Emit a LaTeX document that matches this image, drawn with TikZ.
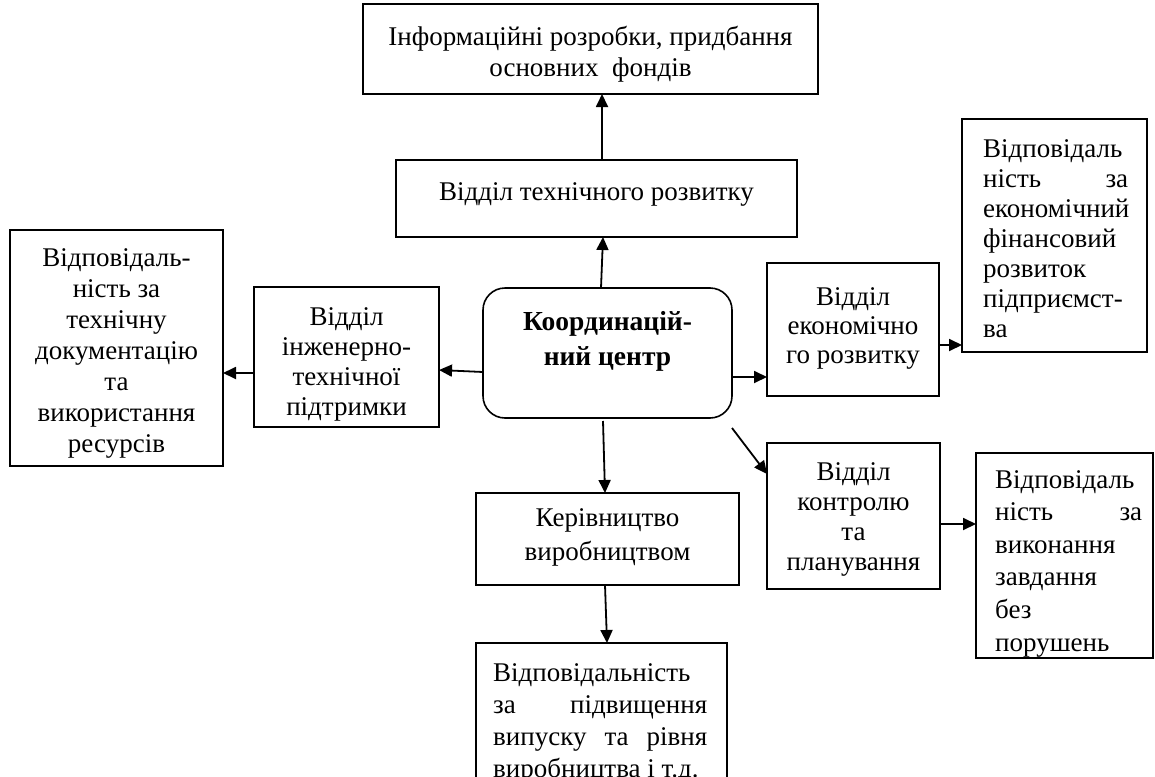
\documentclass[tikz,border=0pt]{standalone}
\usepackage{fontspec}
\setmainfont{Liberation Serif}
\usetikzlibrary{arrows.meta}
\newcommand{\fsz}[1]{\fontsize{27}{#1}\selectfont}
\begin{document}
\begin{tikzpicture}[x=1pt,y=-1pt,
  box/.style={draw, line width=1.6pt, inner sep=0pt, outer sep=0pt},
  arr/.style={line width=1.8pt, -{Triangle[length=13pt,width=12pt]}},
  txt/.style={inner sep=0pt, align=center, font=\fsz{31}}]
\useasboundingbox (0,0) rectangle (1155,776);
\clip (0,0) rectangle (1155,776);
% boxes
\node[box,minimum width=455pt,minimum height=90pt] (top) at (590.5,49) {};
\node[box,minimum width=401pt,minimum height=77pt] (tech) at (596.5,198.5) {};
\node[box,minimum width=213pt,minimum height=236pt] (left) at (116.5,348) {};
\node[box,minimum width=185pt,minimum height=140pt] (eng) at (346.5,357) {};
\node[box,rounded corners=22pt,minimum width=249pt,minimum height=130pt] (ctr) at (607.5,353) {};
\node[box,minimum width=172pt,minimum height=133pt] (econ) at (853,329.5) {};
\node[box,minimum width=185pt,minimum height=233pt] (rt) at (1054.5,235.5) {};
\node[box,minimum width=173pt,minimum height=146pt] (ctrl) at (853.5,516) {};
\node[box,minimum width=177pt,minimum height=205pt] (rb) at (1064.5,555.5) {};
\node[box,minimum width=263pt,minimum height=92pt] (ker) at (607.5,539) {};
\node[box,minimum width=251pt,minimum height=157pt] (bot) at (601.5,721.5) {};
% texts
\node[txt] (ttop) at (590.5,54.5) {Інформаційні розробки, придбання\\основних\ \ фондів};
\node[txt] (ttech) at (596.5,194) {Відділ технічного розвитку};
\node[txt] (tleft) at (116.5,353.5) {Відповідаль-\\ність за\\технічну\\документацію\\та\\використання\\ресурсів};
\node[txt,font=\fsz{30}] (teng) at (346.5,364) {Відділ\\інженерно-\\технічної\\підтримки};
\node[txt,font=\bfseries\fontsize{27.5}{35}\selectfont] (tctr) at (607.5,341.5) {Координацій-\\ний центр};
\node[txt,font=\fsz{29}] (tecon) at (853,328.5) {Відділ\\економічно\\го розвитку};
\node[txt,font=\fsz{30},align=left,anchor=west] (trt) at (983,239) {Відповідаль\\\hbox to 145pt{ність\hfill за}\\економічний\\фінансовий\\розвиток\\підприємст-\\ва};
\node[txt,font=\fsz{30}] (tctrl) at (853.5,519.5) {Відділ\\контролю\\та\\планування};
\node[txt,font=\fsz{34}] (tker) at (607.5,537) {Керівництво\\виробництвом};
\node[txt,font=\fsz{32.6},align=left,anchor=west] (trb) at (995,563.5) {Відповідаль\\\hbox to 147pt{ність\hfill за}\\виконання\\завдання\\без\\порушень};
\node[txt,font=\fsz{32},align=left,anchor=west] (tbot) at (493,723) {Відповідальність\\\hbox to 214pt{за\hfill підвищення}\\\hbox to 214pt{випуску\hfill та\hfill рівня}\\виробництва і т.д.};
% connectors
\draw[arr] ([xshift=5.5pt]tech.north) -- ([xshift=5.5pt]tech.north |- top.south);
\draw[arr] ([xshift=-6.5pt]ctr.north) -- ([xshift=6.5pt]tech.south);
\draw[arr] ([yshift=-19pt]ctr.west) -- ([yshift=-13pt]eng.east);
\coordinate (e1) at ([yshift=-16pt]eng.west);
\draw[arr] (e1) -- (e1 -| left.east);
\coordinate (c1) at ([yshift=-24pt]ctr.east);
\draw[arr] (c1) -- (c1 -| econ.west);
\coordinate (e2) at ([yshift=-15.5pt]econ.east);
\draw[arr] (e2) -- (e2 -| rt.west);
\draw[arr] ([yshift=-10pt]ctr.south east) -- ([yshift=42pt]ctrl.west);
\coordinate (k1) at ([yshift=-8pt]ctrl.east);
\draw[arr] (k1) -- (k1 -| rb.west);
\draw[arr] ([xshift=-4.5pt,yshift=-3pt]ctr.south) -- ([xshift=-2.5pt]ker.north);
\draw[arr] ([xshift=-2.5pt]ker.south) -- ([xshift=5.5pt]bot.north);
\end{tikzpicture}
\end{document}
